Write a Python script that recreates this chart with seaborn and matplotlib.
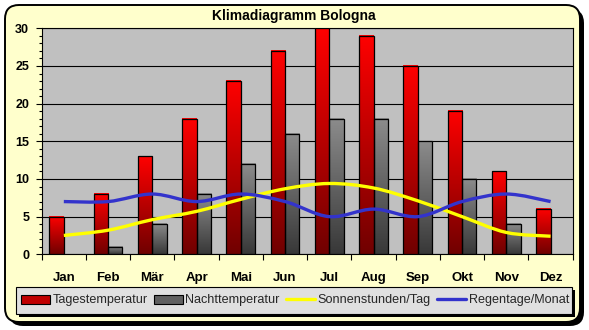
import numpy as np
import pandas as pd
import matplotlib
matplotlib.use('Agg')
import matplotlib.pyplot as plt
import seaborn as sns
from matplotlib.patches import FancyBboxPatch, Rectangle, PathPatch, Patch
from matplotlib.path import Path
from matplotlib.lines import Line2D
from matplotlib.colors import LinearSegmentedColormap
from matplotlib.ticker import MultipleLocator

# ---- data ----
months = ['Jan', 'Feb', 'Mär', 'Apr', 'Mai', 'Jun', 'Jul', 'Aug', 'Sep', 'Okt', 'Nov', 'Dez']
tagestemperatur = [5, 8, 13, 18, 23, 27, 30, 29, 25, 19, 11, 6]
nachttemperatur = [0, 1, 4, 8, 12, 16, 18, 18, 15, 10, 4, 0]
sonnenstunden = [2.5, 3.2, 4.6, 5.7, 7.3, 8.7, 9.4, 8.8, 7.1, 5.0, 2.9, 2.4]
regentage = [7, 7, 8, 7, 8, 7, 5, 6, 5, 7, 8, 7]
yticks = [0, 5, 10, 15, 20, 25, 30]
title = 'Klimadiagramm Bologna'
series_names = ['Tagestemperatur', 'Nachttemperatur', 'Sonnenstunden/Tag', 'Regentage/Monat']

sns.set_theme(style='white')
plt.rcParams['font.family'] = ['Liberation Sans', 'DejaVu Sans']

W, H = 589, 330
fig = plt.figure(figsize=(W / 100, H / 100), dpi=100, facecolor='white')

# ---- background panel (display pixel coords) ----
fig.add_artist(FancyBboxPatch((9, 4), 575, 317, boxstyle='round,pad=0,rounding_size=14',
                              transform=None, fc='black', ec='black', lw=0, zorder=-2))
fig.add_artist(FancyBboxPatch((5, 8), 575, 317, boxstyle='round,pad=0,rounding_size=14',
                              transform=None, fc='#FFFFCC', ec='black', lw=1.4, zorder=-1))

# ---- axes ----
ax = fig.add_axes([41.7 / W, 1 - 254.3 / H, (572.7 - 41.7) / W, (254.3 - 28.3) / H])
ax.set_zorder(3)
ax.set_facecolor('#C0C0C0')

df = pd.DataFrame({
    'Monat': months * 2,
    'Wert': tagestemperatur + nachttemperatur,
    'Serie': [series_names[0]] * len(months) + [series_names[1]] * len(months),
})
sns.barplot(data=df, x='Monat', y='Wert', hue='Serie', hue_order=series_names[:2],
            palette=['#FF0000', '#808080'], width=0.65, saturation=1,
            edgecolor='black', linewidth=0.9, legend=False, ax=ax, zorder=3)

red_cmap = LinearSegmentedColormap.from_list('r', ['#700000', '#FF0000'])
gray_cmap = LinearSegmentedColormap.from_list('g', ['#383838', '#8C8C8C'])
grad = np.linspace(0, 1, 256).reshape(-1, 1)
for p in list(ax.patches):
    h = p.get_height()
    if h <= 0:
        p.set_visible(False)
        continue
    fc = p.get_facecolor()
    cmap = red_cmap if fc[1] < 0.2 else gray_cmap
    x0, w = p.get_x(), p.get_width()
    ax.imshow(grad, extent=[x0, x0 + w, 0, h], origin='lower', aspect='auto',
              cmap=cmap, zorder=3.1, interpolation='bilinear')
    p.set_facecolor('none')
    p.set_zorder(3.2)


def smooth_path(xs, ys):
    pts = np.column_stack([xs, ys]).astype(float)
    n = len(pts)
    verts = [pts[0]]
    codes = [Path.MOVETO]
    for i in range(n - 1):
        p0 = pts[max(i - 1, 0)]
        p1 = pts[i]
        p2 = pts[i + 1]
        p3 = pts[min(i + 2, n - 1)]
        c1 = p1 + (p2 - p0) / 6.0
        c2 = p2 - (p3 - p1) / 6.0
        verts += [c1, c2, p2]
        codes += [Path.CURVE4] * 3
    return Path(verts, codes)


xs = np.arange(len(months))
ax.add_patch(PathPatch(smooth_path(xs, sonnenstunden), fc='none', ec='#FFFF00', lw=2.4,
                       zorder=5, capstyle='butt'))
ax.add_patch(PathPatch(smooth_path(xs, regentage), fc='none', ec='#3333CC', lw=2.4,
                       zorder=5.1, capstyle='butt'))

ax.set_xlim(-0.5, len(months) - 0.5)
ax.set_ylim(0, 30)
ax.set_xlabel('')
ax.set_ylabel('')
ax.set_yticks(yticks)
ax.set_yticklabels([str(t) for t in yticks], fontsize=9, fontweight='bold')
ax.yaxis.set_minor_locator(MultipleLocator(1))
ax.set_xticks(xs)
ax.set_xticklabels(months, fontsize=9.5, fontweight='bold')
ax.set_xticks(np.arange(-0.5, len(months), 1.0), minor=True)
ax.tick_params(axis='y', which='major', left=True, length=4, width=0.8, color='black',
               direction='out', pad=5, labelcolor='black')
ax.tick_params(axis='y', which='minor', left=True, length=2.5, width=0.8, color='black',
               direction='out')
ax.tick_params(axis='x', which='major', bottom=True, length=0, pad=13, labelcolor='black')
ax.tick_params(axis='x', which='minor', bottom=True, length=4, width=0.8, color='black',
               direction='out')
ax.yaxis.grid(True, which='major', color='black', lw=0.8)
ax.xaxis.grid(False)
ax.set_axisbelow(True)
for s in ax.spines.values():
    s.set_color('black')
    s.set_linewidth(0.8)

fig.text(294 / W, 1 - 16 / H, title, ha='center', va='center', fontsize=10,
         fontweight='bold', color='black')

# ---- legend box ----
fig.add_artist(Rectangle((19, 13), 556, 27, transform=None, fc='black', ec='none', zorder=1))
fig.add_artist(Rectangle((16, 16), 556, 27, transform=None, fc='#E0E0E0', ec='black',
                         lw=0.8, zorder=1.1))
handles = [
    Patch(fc='#C00000', ec='black', lw=0.8),
    Patch(fc='#606060', ec='black', lw=0.8),
    Line2D([], [], color='#FFFF00', lw=2.4),
    Line2D([], [], color='#3333CC', lw=2.4),
]
leg = fig.legend(handles, series_names, ncol=4, loc='center',
                 bbox_to_anchor=(295 / W, 1 - 300.5 / H), frameon=False,
                 prop={'size': 9.1}, handlelength=2.3, handletextpad=0.2,
                 columnspacing=0.5, borderpad=0, borderaxespad=0)
leg.set_zorder(2)

fig.savefig('out.png', dpi=100, facecolor='white')
